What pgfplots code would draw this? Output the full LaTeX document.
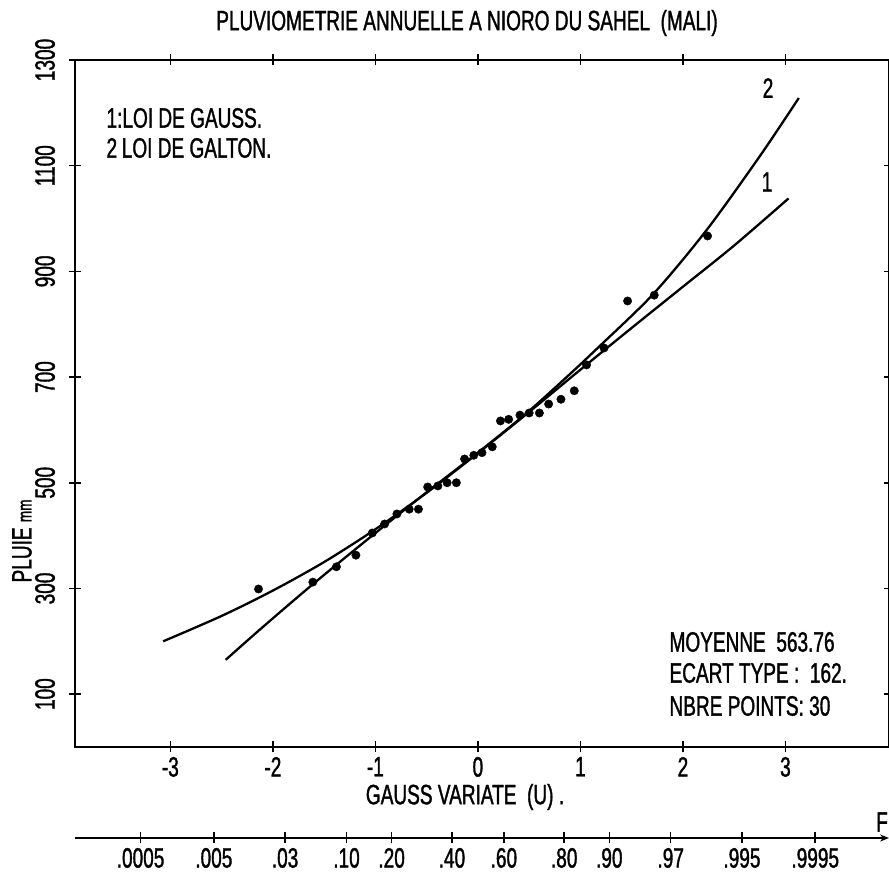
\documentclass[border=0pt]{standalone}
\usepackage{fontspec}
\setmainfont{Liberation Sans}[FakeStretch=0.68,FakeBold=1.2]
\usepackage{pgfplots}
\usepackage{pgfplotstable}
\pgfplotsset{compat=1.18}
\usetikzlibrary{arrows.meta}

% observed annual rainfall (mm) vs Gauss variate
\pgfplotstableread{
u P
-2.14 299
-1.61 312
-1.38 341
-1.19 363
-1.03 405
-0.91 422
-0.79 441
-0.67 450
-0.58 450
-0.49 492
-0.39 494
-0.30 500
-0.21 500
-0.13 545
-0.04 552
0.04 557
0.14 568
0.22 617
0.30 620
0.41 628
0.50 632
0.60 632
0.69 649
0.81 658
0.94 674
1.06 723
1.23 755
1.46 844
1.72 855
2.24 967
}\obs

% curve 1: loi de Gauss
\pgfplotstableread{
u P
-3.07 200
-2.50 248
-2.00 296
-1.50 350
-1.00 412
-0.50 481
0.00 556
0.50 634
1.00 714
1.50 793
2.00 871
2.50 949
3.03 1038
}\gauss

% curve 2: loi de Galton
\pgfplotstableread{
u P
-2.46 165
-2.11 225
-1.61 308
-1.05 397
-0.50 482
0.00 557
0.50 636
1.00 724
1.19 759
1.71 857
2.23 978
2.75 1118
3.13 1228
}\galton

\newcommand\tx{\fontsize{28}{30}\selectfont}

\begin{document}
\begin{tikzpicture}
\useasboundingbox (0,0) rectangle (889pt,874pt);
\begin{axis}[
  at={(75pt,127pt)},anchor=south west,
  scale only axis,width=814pt,height=687pt,
  xmin=-3.93,xmax=4.01,ymin=0,ymax=1300,
  xtick={-3,-2,-1,0,1,2,3},
  xticklabels={-3,-2,-1,0,1,2,3},
  ytick={100,300,500,700,900,1100,1300},
  yticklabels={100,300,500,700,900,1100,1300},
  tick align=center,major tick length=11pt,
  tick style={line width=1.5pt,black},
  axis line style={line width=1.8pt},
  tick label style={font=\tx},
  yticklabel style={rotate=90,anchor=south},
  yticklabel shift=11pt,
  xticklabel shift=1pt,
]
\addplot[line width=2.3pt,smooth,tension=0.5] table[x=u,y=P] {\gauss};
\addplot[line width=2.3pt,smooth,tension=0.5] table[x=u,y=P] {\galton};
\addplot[only marks,mark=*,mark size=4.2pt] table[x=u,y=P] {\obs};
\node[font=\tx] at (axis cs:2.83,1247) {2};
\node[font=\tx] at (axis cs:2.82,1069) {1};
\end{axis}

\begin{axis}[
  at={(75pt,36pt)},anchor=south west,
  scale only axis,width=814pt,height=10pt,
  xmin=-3.93,xmax=4.01,ymin=0,ymax=1,
  hide y axis,axis x line=bottom,
  x axis line style={line width=1.8pt,-{Stealth[length=9pt,width=7pt]}},
  xtick={-3.2905,-2.5758,-1.8808,-1.2816,-0.8416,-0.2533,0.2533,0.8416,1.2816,1.8808,2.5758,3.2905},
  xticklabels={.0005,.005,.03,.10,.20,.40,.60,.80,.90,.97,.995,.9995},
  tick align=center,major tick length=11pt,
  tick style={line width=1.5pt,black},
  tick label style={font=\tx},
  xticklabel shift=1pt,
]
\end{axis}

\node[font=\tx] at (467pt,851pt) {PLUVIOMETRIE ANNUELLE A NIORO DU SAHEL\ \ (MALI)};
\node[font=\tx,anchor=west] at (103pt,756pt) {1:LOI DE GAUSS.};
\node[font=\tx,anchor=west] at (103pt,726pt) {2\,LOI DE GALTON.};
\node[font=\tx,anchor=west] at (666pt,232pt) {MOYENNE\ \ 563.76};
\node[font=\tx,anchor=west] at (666pt,201pt) {ECART TYPE :\ \ 162.};
\node[font=\tx,anchor=west] at (666pt,168pt) {NBRE POINTS: 30};
\node[font=\tx] at (465pt,77pt) {GAUSS VARIATE\ \ (U) .};
\node[font=\tx,rotate=90] at (22pt,333pt) {PLUIE {\fontsize{20}{22}\selectfont mm}};
\node[font=\tx] at (882pt,52pt) {F};
\end{tikzpicture}
\end{document}
